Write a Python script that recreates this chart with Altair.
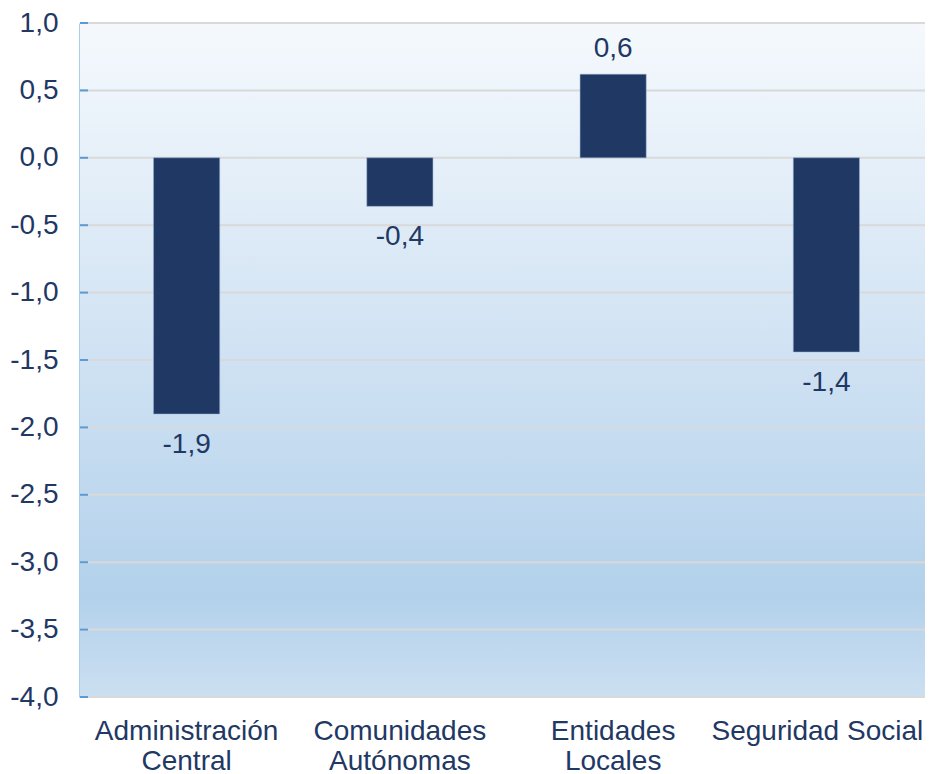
import altair as alt
import pandas as pd

categories = ["Administración|Central", "Comunidades|Autónomas", "Entidades|Locales", "Seguridad Social"]
values = [-1.90, -0.36, 0.62, -1.44]
labels = ["-1,9", "-0,4", "0,6", "-1,4"]
y_ticks = [1.0, 0.5, 0.0, -0.5, -1.0, -1.5, -2.0, -2.5, -3.0, -3.5, -4.0]

NAVY = "#1F3864"
FONT = "Liberation Sans"
W, H = 845, 674
FULLW = 853
FS = 28

df = pd.DataFrame({"cat": categories, "val": values, "lab": labels})
ticks_df = pd.DataFrame({"t": y_ticks})

ysc = alt.Scale(domain=[-4.0, 1.0], nice=False)
xsc = alt.Scale(domain=categories, range=[0, FULLW], paddingInner=0.69, paddingOuter=0.345)
xenc = alt.X("cat:N", sort=categories, scale=xsc,
             axis=alt.Axis(title=None, labelExpr="split(datum.label, '|')", labelFont=FONT,
                           labelFontSize=FS, labelColor=NAVY, labelAngle=0, labelPadding=20,
                           labelLineHeight=30, labelLimit=0, labelOverlap=False,
                           labelOffset={"condition": {"test": "datum.value == 'Seguridad Social'", "value": -9}, "value": 0},
                           ticks=False, domain=False, labelBaseline="top"))

bg = alt.Chart(pd.DataFrame({"a": [0]})).mark_rect(
    fill=alt.Gradient(gradient="linear", x1=0, x2=0, y1=0, y2=1,
                      stops=[alt.GradientStop(offset=0, color="#F5F9FD"),
                             alt.GradientStop(offset=0.45, color="#D3E4F4"),
                             alt.GradientStop(offset=0.85, color="#B3D1EB"),
                             alt.GradientStop(offset=1, color="#CBDFF1")])
).encode(x=alt.value(0), x2=alt.value(FULLW), y=alt.value(0), y2=alt.value(H))

ylabel = "replace(replace(format(datum.value, '.1f'), '.', ','), '\u2212', '-')"
grid = alt.Chart(ticks_df).mark_rule(color="#D9D9D9", strokeWidth=2).encode(
    y=alt.Y("t:Q", scale=ysc,
            axis=alt.Axis(title=None, values=y_ticks, labelExpr=ylabel,
                          labelFont=FONT, labelFontSize=FS, labelColor=NAVY, labelPadding=22,
                          ticks=False, domainColor="#5B9BD5", domainWidth=2, grid=False)),
    x=alt.value(0), x2=alt.value(FULLW))

tickmarks = alt.Chart(ticks_df).mark_rule(color="#5B9BD5", strokeWidth=2).encode(
    y=alt.Y("t:Q", scale=ysc), x=alt.value(0), x2=alt.value(8))

bars = alt.Chart(df).mark_bar(color=NAVY, stroke="#8EA9C8", strokeWidth=0.5).encode(
    x=xenc, y=alt.Y("val:Q", scale=ysc), y2=alt.datum(0))

txt_pos = alt.Chart(df).transform_filter("datum.val >= 0").mark_text(
    font=FONT, fontSize=FS, color=NAVY, baseline="middle", dy=-25).encode(
    x=alt.X("cat:N", sort=categories, scale=xsc), y=alt.Y("val:Q", scale=ysc), text="lab:N")
txt_neg = alt.Chart(df).transform_filter("datum.val < 0").mark_text(
    font=FONT, fontSize=FS, color=NAVY, baseline="middle", dy=31).encode(
    x=alt.X("cat:N", sort=categories, scale=xsc), y=alt.Y("val:Q", scale=ysc), text="lab:N")

chart = alt.layer(bg, grid, tickmarks, bars, txt_pos, txt_neg).properties(
    width=W, height=H,
    autosize=alt.AutoSizeParams(type="none"),
    padding={"left": 72, "top": 15, "right": 0, "bottom": 85},
).configure_view(stroke=None).configure(background="white")

chart.save("out.html", embed_options={"renderer": "svg", "actions": False})
